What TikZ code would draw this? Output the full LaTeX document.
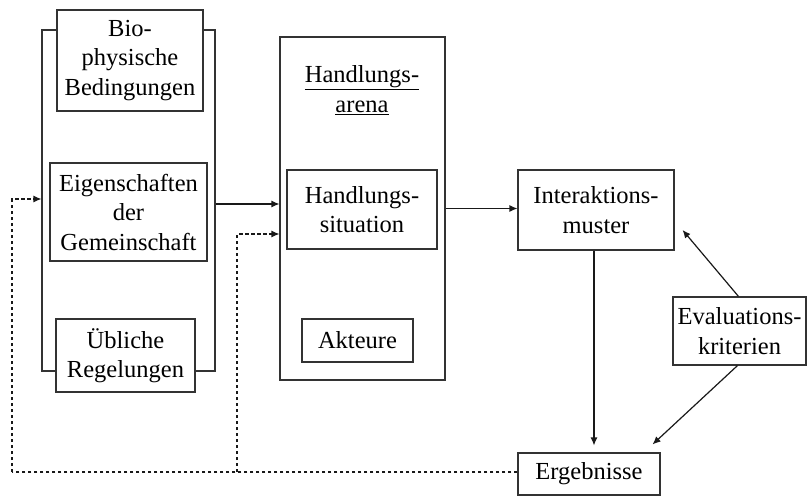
\documentclass[tikz,border=0pt]{standalone}
\usepackage{fontspec}
\setmainfont{Liberation Serif}
\usetikzlibrary{arrows.meta,calc}
\begin{document}
\begin{tikzpicture}[x=1pt,y=-1pt,
  box/.style={draw=black!80,line width=1.1pt,fill=white,inner sep=0pt,align=center,
    font=\fontsize{24.5}{29.5}\selectfont},
  conn/.style={draw=black!90,line width=1.2pt,-{Latex[length=8pt,width=7pt]}},
  fb/.style={conn,dash pattern=on 3.5pt off 2.5pt}]
\useasboundingbox (0,0) rectangle (809,498);
\node[box,minimum width=173pt,minimum height=341pt] (frame) at (128.5,200.5) {};
\node[box,minimum width=146pt,minimum height=101pt] (bio) at (130,60.5) {Bio-\\physische\\Bedingungen};
\node[box,minimum width=157pt,minimum height=98pt] (eig) at (128.5,212) {Eigenschaften\\der\\Gemeinschaft};
\node[box,minimum width=139pt,minimum height=73pt] (ubl) at (125.5,355.5) {Übliche\\Regelungen};
\node[box,minimum width=165pt,minimum height=343pt] (arena) at (362.5,208.5) {};
\node[box,draw=none,fill=none] (arenalabel) at (362,90) {\underline{Handlungs-}\\\underline{arena}};
\node[box,minimum width=150pt,minimum height=79pt] (sit) at (362,209.5) {Handlungs-\\situation};
\node[box,minimum width=111pt,minimum height=43pt] (akt) at (357.5,340.5) {Akteure};
\node[box,minimum width=156pt,minimum height=80pt] (inter) at (596,210) {Interaktions-\\muster};
\node[box,minimum width=133pt,minimum height=68pt] (eval) at (739.5,331) {Evaluations-\\kriterien};
\node[box,minimum width=142pt,minimum height=42pt] (erg) at (589,474) {Ergebnisse};
\coordinate (c1) at (12,472);
\coordinate (c2) at (237,472);
\draw[conn] (frame.east |- 0,204) -- (arena.west |- 0,204);
\draw[conn] (arena.east) -- (arena.east -| inter.west);
\draw[conn] (inter.south -| 594,0) -- ($(erg.north -| 594,0)+(0,-7)$);
\draw[conn] ($(eval.north)+(-1,0)$) -- ($(inter.east)+(8,20)$);
\draw[conn] ($(eval.south)+(-2,0)$) -- ($(erg.north east)+(-8,-8)$);
\draw[fb,-] (erg.west |- c1) -- (c1);
\draw[fb] (c1) |- (frame.west |- 0,199);
\draw[fb] (c2) |- (arena.west |- 0,234);
\end{tikzpicture}
\end{document}
